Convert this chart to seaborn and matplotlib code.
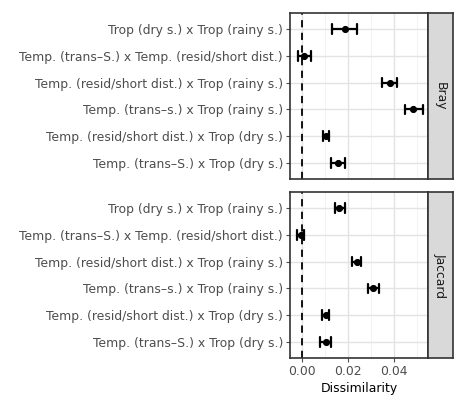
import numpy as np
import pandas as pd
import matplotlib
matplotlib.use("Agg")
import matplotlib.pyplot as plt
import seaborn as sns

comparisons = [
    "Trop (dry s.) x Trop (rainy s.)",
    "Temp. (trans\u2013S.) x Temp. (resid/short dist.)",
    "Temp. (resid/short dist.) x Trop (rainy s.)",
    "Temp. (trans\u2013s.) x Trop (rainy s.)",
    "Temp. (resid/short dist.) x Trop (dry s.)",
    "Temp. (trans\u2013S.) x Trop (dry s.)",
]
metrics = ["Bray", "Jaccard"]

# mean dissimilarity and interval bounds per comparison
bray_mean = [0.0187, 0.0009, 0.0383, 0.0484, 0.0104, 0.0158]
bray_low = [0.0132, -0.0016, 0.0349, 0.0446, 0.0090, 0.0125]
bray_high = [0.0241, 0.0038, 0.0414, 0.0527, 0.0119, 0.0188]

jac_mean = [0.0162, -0.0006, 0.0239, 0.0310, 0.0103, 0.0104]
jac_low = [0.0142, -0.0023, 0.0219, 0.0288, 0.0088, 0.0080]
jac_high = [0.0188, 0.0010, 0.0257, 0.0336, 0.0119, 0.0126]

x_ticks = [0.00, 0.02, 0.04]
x_tick_labels = ["0.00", "0.02", "0.04"]

values = {
    "Bray": (bray_low, bray_mean, bray_high),
    "Jaccard": (jac_low, jac_mean, jac_high),
}

rows = []
for metric in metrics:
    lo, mid, hi = values[metric]
    for i, comp in enumerate(comparisons):
        for v in (lo[i], mid[i], hi[i]):
            rows.append({"metric": metric, "comparison": comp, "value": v})
df = pd.DataFrame(rows)

sns.set_theme(style="white")
plt.rcParams["font.family"] = ["DejaVu Sans"]

W, H = 454, 401
fig = plt.figure(figsize=(W / 100, H / 100), dpi=100)

left_px, right_px = 290, 428
strip_right = 453
panels_px = [(13, 179), (192, 358)]

border_col = "#333333"
text_col = "#4d4d4d"
label_size = 8.9

for k, metric in enumerate(metrics):
    top, bot = panels_px[k]
    ax = fig.add_axes([left_px / W, 1 - bot / H, (right_px - left_px) / W, (bot - top) / H])
    sub = df[df["metric"] == metric]

    ax.axvline(0, color="black", lw=1.3, ls=(0, (4, 3)), zorder=1)

    sns.pointplot(
        data=sub, x="value", y="comparison", order=comparisons,
        estimator="median", errorbar=lambda v: (v.min(), v.max()),
        linestyle="none", color="black", capsize=0.36,
        err_kws={"linewidth": 1.6}, markersize=3.1, ax=ax, zorder=3,
    )
    ax.set_xlim(-0.0052, 0.0548)
    ax.set_ylim(5.6, -0.6)
    ax.set_ylabel("")
    ax.set_yticks(range(len(comparisons)))
    ax.set_yticklabels(comparisons)
    ax.set_xticks(x_ticks)
    ax.set_xticks([0.01, 0.03, 0.05], minor=True)
    ax.grid(True, which="major", axis="both", color="#e3e3e3", lw=1.0, zorder=0)
    ax.grid(True, which="minor", axis="x", color="#f0f0f0", lw=0.6, zorder=0)
    ax.set_axisbelow(True)

    for s in ax.spines.values():
        s.set_visible(True)
        s.set_color(border_col)
        s.set_linewidth(1.2)

    ax.tick_params(axis="y", left=True, length=3, width=0.8, color=text_col,
                   labelsize=label_size, labelcolor=text_col, pad=2)
    ax.tick_params(axis="x", which="minor", bottom=False)
    if k == 1:
        ax.set_xticklabels(x_tick_labels)
        ax.tick_params(axis="x", which="major", bottom=True, length=3, width=0.8,
                       color=text_col, labelsize=label_size, labelcolor=text_col, pad=2)
        ax.set_xlabel("Dissimilarity", fontsize=label_size, color="black", labelpad=3)
    else:
        ax.set_xlabel("")
        ax.tick_params(axis="x", bottom=False, labelbottom=False)

    # facet strip on the right
    sax = fig.add_axes([right_px / W, 1 - bot / H, (strip_right - right_px) / W, (bot - top) / H])
    sax.set_facecolor("#d9d9d9")
    sax.set_xticks([])
    sax.set_yticks([])
    for s in sax.spines.values():
        s.set_color(border_col)
        s.set_linewidth(1.2)
    sax.text(0.5, 0.5, metric, rotation=-90, ha="center", va="center",
             fontsize=label_size, color="#1a1a1a", transform=sax.transAxes)

fig.savefig("out.png", dpi=100, facecolor="white")
